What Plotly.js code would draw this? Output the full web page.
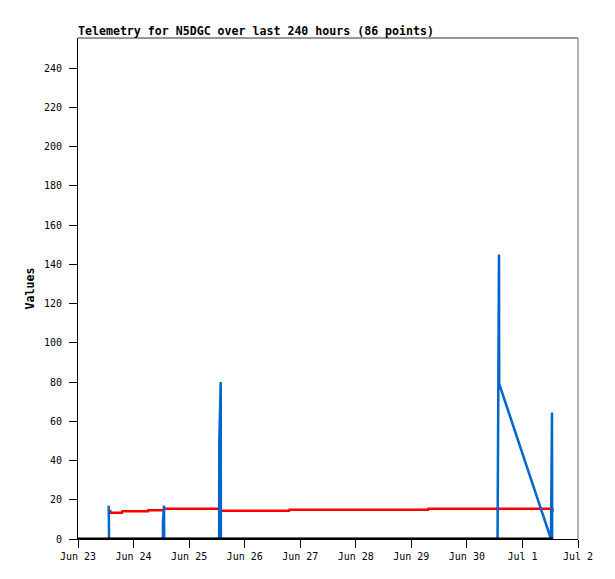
<!DOCTYPE html>
<html>
<head>
<meta charset="utf-8">
<script src="https://cdn.plot.ly/plotly-3.0.1.min.js"></script>
<style>html,body{margin:0;padding:0;background:#fff;}#chart{width:615px;height:579px;}</style>
</head>
<body>
<div id="chart"></div>
<script>
// Red series (telemetry channel)
var redTimes = ['2024-06-23 13:49','2024-06-23 14:08','2024-06-23 19:00','2024-06-23 19:08','2024-06-24 06:14','2024-06-24 06:22','2024-06-24 13:09','2024-06-24 13:17','2024-06-25 13:21','2024-06-25 13:40','2024-06-26 19:09','2024-06-26 19:17','2024-06-29 07:12','2024-06-29 07:20','2024-06-30 13:00','2024-06-30 13:05','2024-06-30 13:18','2024-07-01 12:55','2024-07-01 13:12'];
var redValues = [14.8,13.4,13.4,14.1,14.1,14.6,14.6,15.4,15.4,14.4,14.4,14.9,14.9,15.4,15.4,14.8,15.4,15.4,14.0];

// Blue series
var blueTimes = ['2024-06-23 13:16','2024-06-23 13:25','2024-06-24 12:40','2024-06-24 12:43','2024-06-24 13:09','2024-06-24 13:14','2024-06-25 13:00','2024-06-25 13:02','2024-06-25 13:39','2024-06-25 13:44','2024-06-30 13:15','2024-06-30 13:18','2024-06-30 13:52','2024-06-30 13:58','2024-07-01 12:20','2024-07-01 12:46','2024-07-01 12:50'];
var blueValues = [17,0,0,9,17,0,0,49,80,0,0,25,145,79,0,64.5,0];

// Black series (flat at zero)
var blackTimes = ['2024-06-23 00:00','2024-07-01 13:12'];
var blackValues = [0,0];

var xTickVals = ['2024-06-23','2024-06-24','2024-06-25','2024-06-26','2024-06-27','2024-06-28','2024-06-29','2024-06-30','2024-07-01','2024-07-02'];
var xTickText = ['Jun 23','Jun 24','Jun 25','Jun 26','Jun 27','Jun 28','Jun 29','Jun 30','Jul 1','Jul 2'];

var traces = [
  {x: redTimes, y: redValues, type: 'scatter', mode: 'lines', line: {color: '#ff0000', width: 2.5}, hoverinfo: 'none'},
  {x: blueTimes, y: blueValues, type: 'scatter', mode: 'lines', line: {color: '#0066cc', width: 2.5}, hoverinfo: 'none'},
  {x: blackTimes, y: blackValues, type: 'scatter', mode: 'lines', line: {color: '#000000', width: 3}, hoverinfo: 'none', cliponaxis: false}
];

var mono = 'DejaVu Sans Mono, Liberation Mono, monospace';
var layout = {
  width: 615, height: 579,
  margin: {l: 78, r: 37, t: 38, b: 40, pad: 0},
  paper_bgcolor: '#ffffff', plot_bgcolor: '#ffffff',
  showlegend: false,
  title: {text: '<b>Telemetry for N5DGC over last 240 hours (86 points)</b>', x: 78/615, xref: 'container', xanchor: 'left', y: 1 - 31/579, yref: 'container', yanchor: 'middle', font: {family: mono, size: 11.6, color: '#000'}},
  xaxis: {
    type: 'date', range: ['2024-06-23 00:00', '2024-07-02 00:00'],
    tickmode: 'array', tickvals: xTickVals, ticktext: xTickText,
    ticks: 'outside', ticklen: 8, tickcolor: '#000', tickwidth: 1,
    showgrid: false, zeroline: false, showline: true, linecolor: '#000', linewidth: 1,
    tickfont: {family: mono, size: 10, color: '#000'}
  },
  yaxis: {
    range: [0, 255.3], tickmode: 'linear', tick0: 0, dtick: 20,
    ticks: 'outside', ticklen: 8, tickcolor: '#000', tickwidth: 1, ticklabelstandoff: 5,
    showgrid: false, zeroline: false, showline: true, linecolor: '#000', linewidth: 1,
    tickfont: {family: mono, size: 10, color: '#000'},
    title: {text: '<b>Values</b>', font: {family: mono, size: 11.6, color: '#000'}, standoff: 6}
  },
  shapes: [
    {type: 'line', xref: 'paper', yref: 'paper', x0: 0, x1: 1, y0: 1, y1: 1, line: {color: '#333', width: 1}},
    {type: 'line', xref: 'paper', yref: 'paper', x0: 1, x1: 1, y0: 0, y1: 1, line: {color: '#666', width: 1}}
  ]
};

Plotly.newPlot('chart', traces, layout, {displayModeBar: false, staticPlot: true});
</script>
</body>
</html>
